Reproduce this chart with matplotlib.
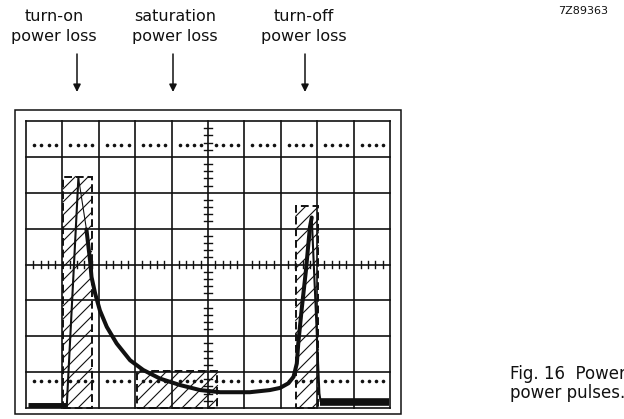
import matplotlib
matplotlib.use("Agg")
import numpy as np
import matplotlib.pyplot as plt
from matplotlib.patches import Rectangle

plt.rcParams['font.family'] = ['DejaVu Sans']

# Graticule: 10 x 8 divisions
n_cols = 10
n_rows = 8

# Dotted reference levels (in divisions)
dot_levels = [7.33, 0.76]

# Hatched (idealised) power pulses: (x_start, x_end, height)
pulse_names = ["turn-on", "saturation", "turn-off"]
pulse_x0 = [1.02, 3.06, 7.41]
pulse_x1 = [1.80, 5.26, 8.03]
pulse_h = [6.45, 1.04, 5.62]

# Measured trace
base_left_x = [0.05, 1.12]
base_left_y = [0.06, 0.06]

on_rise_x = [1.12, 1.44]
on_rise_y = [0.06, 6.43]

on_link_x = [1.44, 1.66]
on_link_y = [6.43, 4.98]

main_x = [1.66, 1.76, 1.80, 1.90, 2.03, 2.22, 2.49, 2.86, 3.22, 3.68, 4.23,
          4.78, 5.33, 5.60, 6.15, 6.70, 6.98, 7.21, 7.35, 7.44, 7.48, 7.57,
          7.69, 7.80, 7.85]
main_y = [4.98, 4.11, 3.65, 3.19, 2.72, 2.26, 1.80, 1.33, 1.06, 0.82, 0.64,
          0.50, 0.44, 0.44, 0.44, 0.50, 0.56, 0.69, 0.87, 1.24, 1.80, 2.72,
          3.83, 5.04, 5.31]

off_fall_x = [7.85, 8.06, 8.09]
off_fall_y = [5.31, 0.41, 0.20]

base_right_x = [8.09, 9.97]
base_right_y = [0.18, 0.18]

# Labels above the screen
label_text = ["turn-on\npower loss", "saturation\npower loss", "turn-off\npower loss"]
label_xpx = [54, 175, 304]
arrow_xpx = [77, 173, 305]

fig = plt.figure(figsize=(6.24, 4.19), dpi=100)
W, H = 624, 419


def fx(px):
    return px / W


def fy(py):
    return 1 - py / H


# Screen area
left_px, right_px, top_px, bot_px = 26, 390, 121, 408
ax = fig.add_axes([fx(left_px), fy(bot_px), (right_px - left_px) / W, (bot_px - top_px) / H])
ax.set_xlim(0, n_cols)
ax.set_ylim(0, n_rows)
ax.axis('off')

ink = '#111111'

# Graticule lines
for i in range(n_cols + 1):
    ax.plot([i, i], [0, n_rows], color=ink, lw=1.2, clip_on=False, solid_capstyle='projecting')
for j in range(n_rows + 1):
    ax.plot([0, n_cols], [j, j], color=ink, lw=1.2, clip_on=False, solid_capstyle='projecting')

# Minor ticks along the centre axes
cx, cy = n_cols / 2, n_rows / 2
for k in range(1, n_rows * 5):
    y = k * 0.2
    if k % 5:
        ax.plot([cx - 0.1, cx + 0.1], [y, y], color=ink, lw=1.0)
for k in range(1, n_cols * 5):
    x = k * 0.2
    if k % 5:
        ax.plot([x, x], [cy - 0.1, cy + 0.1], color=ink, lw=1.0)

# Dotted levels: four dots per division
for lev in dot_levels:
    xs = [i + f for i in range(n_cols) for f in (0.22, 0.42, 0.62, 0.82)]
    ax.plot(xs, [lev] * len(xs), linestyle='none', marker='o', ms=2.6,
            color=ink, markeredgewidth=0)

# Hatched pulses: 45-degree lines clipped to each box, dashed outline
px_per_x = (right_px - left_px) / n_cols
px_per_y = (bot_px - top_px) / n_rows
slope = px_per_x / px_per_y          # 45 degrees on screen
spacing = 13.0 / px_per_x            # hatch pitch along x, in divisions
for x0, x1, h in zip(pulse_x0, pulse_x1, pulse_h):
    run = h / slope
    for c in np.arange(np.floor((x0 - run) / spacing) * spacing, x1, spacing):
        xa, xb = max(c, x0), min(c + run, x1)
        if xb <= xa:
            continue
        ax.plot([xa, xb], [slope * (xa - c), slope * (xb - c)], color=ink,
                lw=0.8, clip_on=False)
    ax.add_patch(Rectangle((x0, 0), x1 - x0, h, fill=False,
                           edgecolor=ink, lw=1.4, linestyle=(0, (4, 2)),
                           clip_on=False))

# Trace
ax.plot(base_left_x, base_left_y, color=ink, lw=5, solid_capstyle='butt')
ax.plot(on_rise_x, on_rise_y, color=ink, lw=1.5)
ax.plot(on_link_x, on_link_y, color=ink, lw=0.8)
ax.plot(main_x, main_y, color=ink, lw=2.9, solid_capstyle='round')
ax.plot(off_fall_x, off_fall_y, color=ink, lw=1.5)
ax.plot(base_right_x, base_right_y, color=ink, lw=5.5, solid_capstyle='butt')

# Outer bezel frame
fig.add_artist(Rectangle((fx(15), fy(414)), (401 - 15) / W, (414 - 110) / H,
                         fill=False, edgecolor=ink, lw=1.1,
                         transform=fig.transFigure))

# Labels and arrows above the screen
for txt, lx, axp in zip(label_text, label_xpx, arrow_xpx):
    fig.text(fx(lx), fy(9), txt, ha='center', va='top', fontsize=11.5,
             color=ink, linespacing=1.45)
    fig.add_artist(plt.Annotation('', xy=(fx(axp), fy(92)), xytext=(fx(axp), fy(54)),
                                  xycoords='figure fraction', textcoords='figure fraction',
                                  arrowprops=dict(arrowstyle='-|>', color=ink, lw=1.1,
                                                  mutation_scale=11, shrinkA=0, shrinkB=0)))

fig.text(fx(558), fy(11), "7Z89363", ha='left', va='center', fontsize=8, color=ink)

# Caption runs past the right edge of the page
fig.text(fx(510), fy(374), "Fig. 16  Power", ha='left', va='center', fontsize=12, color=ink)
fig.text(fx(510), fy(393), "power pulses.", ha='left', va='center', fontsize=12, color=ink)

fig.savefig("out.png", dpi=100, facecolor='white')
